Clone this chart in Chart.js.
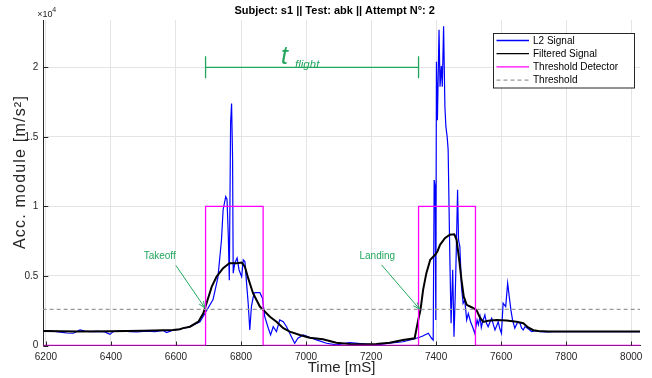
<!DOCTYPE html>
<html>
<head>
<meta charset="utf-8">
<script src="https://cdn.jsdelivr.net/npm/chart.js@4.4.1/dist/chart.umd.min.js"></script>
<style>
  html, body { margin: 0; padding: 0; background: #fff; }
  #wrap { width: 652px; height: 378px; }
</style>
</head>
<body>
<div id="wrap"><canvas id="accChart"></canvas></div>
<script>
// raw signal
const l2Time = [6190, 6210, 6233, 6250, 6264, 6284, 6305, 6320, 6335, 6360, 6381, 6397, 6407, 6430, 6458, 6480, 6510,
  6535, 6561, 6571, 6591, 6605, 6622, 6640, 6653, 6674,
  6692, 6714, 6729, 6740, 6745, 6753, 6757, 6761, 6764, 6768, 6771, 6774, 6776, 6781, 6788, 6794, 6802, 6807, 6812,
  6817, 6822, 6827, 6832, 6840, 6848, 6858, 6866, 6873, 6884, 6891, 6899, 6909, 6919, 6930, 6940, 6955, 6965, 6975,
  6991, 7011, 7032, 7063, 7093, 7134, 7175, 7216, 7257, 7298, 7329, 7349, 7359, 7365, 7376, 7386, 7391, 7394, 7397,
  7399, 7401, 7404, 7408, 7409, 7412, 7416, 7419, 7423, 7427, 7430, 7434, 7437, 7442, 7446, 7451, 7455, 7459, 7463,
  7466, 7469, 7473, 7478, 7483, 7488, 7494, 7499, 7506, 7512, 7519, 7526, 7530, 7535, 7539, 7543, 7550, 7555, 7560,
  7566, 7571, 7576, 7581, 7586, 7591, 7596,
  7601, 7606, 7614, 7620, 7625, 7630, 7635, 7642, 7647, 7652, 7658, 7663, 7668, 7673, 7678, 7686, 7694, 7705, 7719,
  7740, 7760, 7800, 7850, 7900, 7950, 8030];
const l2Value = [1040, 1060, 1000, 950, 900, 880, 1120, 1040, 1000, 1020, 980, 800, 1000, 1060, 1000, 970, 1040,
  1000, 1080, 930, 1100, 1130, 1240, 1320, 1480, 1700,
  2430, 3300, 4900, 7600, 9760, 10700, 10500, 7830, 4700, 16000, 17390, 13600, 5200, 5930, 6290, 5430, 4950, 6150, 6030,
  4500, 3060, 1120, 2800, 3780, 3800, 3800, 3400, 2070, 1240, 760, 1350, 1000, 1840, 1710, 1350, 630, 160, 520,
  760, 590, 400, 160, 40, 200, 110, 40, 160, 270, 450, 590, 680, 760, 880, 520, 400, 11900, 11400,
  1840, 20400, 16200, 21500, 22700, 18600, 20100, 18600, 22950, 17200, 15750, 15000, 14080, 6640, 1600, 5440, 630, 3760, 7830,
  11200, 7600, 7110, 4230, 3040, 3280, 1840, 2300, 1710, 1350, 880, 1840, 1500, 2070, 1300, 1710, 2200, 1600, 1350,
  1700, 1950, 1500, 1120, 1400, 1710, 1200,
  880, 3040, 2800, 4480, 3500, 2560, 1840, 1240, 1500, 1710, 1600, 1250, 1120, 1350, 1300, 1150, 1000, 1060, 1000,
  980, 1000, 1000, 990, 1000, 1000, 1000];

// filtered signal
const filtTime = [6190, 6300, 6400, 6500, 6560, 6591, 6612, 6622, 6643, 6669, 6684, 6694, 6710, 6725, 6745, 6764, 6787,
  6802, 6812, 6822, 6837, 6858, 6868, 6889, 6909, 6930, 6950, 6981, 7011, 7052, 7093, 7134, 7175, 7216, 7257, 7298,
  7334, 7345, 7352, 7360, 7370, 7382, 7397, 7404, 7412, 7427, 7442, 7456, 7463, 7471, 7478, 7485, 7494, 7509, 7524,
  7535, 7545, 7560, 7586, 7617, 7647, 7668, 7683, 7699, 7714, 7745, 8030];
const filtValue = [1040, 1000, 1020, 1060, 1100, 1120, 1170, 1250, 1350, 1710, 2320, 3040, 4230, 4950, 5560, 5920, 5920,
  5960, 5670, 4840, 3760, 2800, 2560, 2070, 1710, 1240, 1000, 760, 560, 450, 200, 110, 90, 110, 200, 400,
  520, 1840, 2560, 4000, 5200, 6160, 6520, 6750, 7240, 7720, 7960, 8000, 7600, 6160, 4720, 3510, 2920, 2750, 2560,
  2000, 1700, 1780, 1840, 1800, 1700, 1600, 1300, 1100, 1040, 1000, 1000];

// threshold detector (step)
const detTime = [6190, 6691, 6691, 6868, 6868, 7346, 7346, 7521, 7521, 8030];
const detValue = [0, 0, 10000, 10000, 0, 0, 10000, 10000, 0, 0];

const thresholdLevel = 2600;
const xTicks = [6200, 6400, 6600, 6800, 7000, 7200, 7400, 7600, 7800, 8000];
const yTicks = [0, 5000, 10000, 15000, 20000];

// annotation anchors in data units
const flightSpan = [6691, 7346];
const flightLevel = 20000;
const takeoffLabel = [6550, 6450];
const takeoffArrow = [6600, 5750, 6689, 2700];
const landingLabel = [7219, 6394];
const landingArrow = [7232, 5800, 7349, 2620];

const GREEN = '#22a65e';
const FONT = '"Liberation Sans", Arial, Helvetica, sans-serif';
const AX = '#262626';

const pts = (xs, ys) => xs.map((x, i) => ({ x, y: ys[i] }));

function arrow(ctx, x0, y0, x1, y1) {
  ctx.beginPath(); ctx.moveTo(x0, y0); ctx.lineTo(x1, y1); ctx.stroke();
  const ang = Math.atan2(y1 - y0, x1 - x0), len = 7, sp = 0.38;
  ctx.beginPath();
  ctx.moveTo(x1 - len * Math.cos(ang - sp), y1 - len * Math.sin(ang - sp));
  ctx.lineTo(x1, y1);
  ctx.lineTo(x1 - len * Math.cos(ang + sp), y1 - len * Math.sin(ang + sp));
  ctx.stroke();
}

const decorations = {
  id: 'decorations',
  afterDatasetsDraw(chart) {
    const { ctx, chartArea: a, scales: { x, y } } = chart;
    ctx.save();
    // inward ticks
    ctx.strokeStyle = AX; ctx.lineWidth = 1;
    xTicks.forEach(v => {
      const px = Math.round(x.getPixelForValue(v)) + 0.5;
      ctx.beginPath(); ctx.moveTo(px, a.bottom); ctx.lineTo(px, a.bottom - 4); ctx.stroke();
    });
    yTicks.forEach(v => {
      const py = Math.round(y.getPixelForValue(v)) + 0.5;
      ctx.beginPath(); ctx.moveTo(a.left, py); ctx.lineTo(a.left + 5, py); ctx.stroke();
    });

    // t_flight bracket
    ctx.strokeStyle = GREEN; ctx.fillStyle = GREEN; ctx.lineWidth = 1.3;
    const fx0 = x.getPixelForValue(flightSpan[0]), fx1 = x.getPixelForValue(flightSpan[1]);
    const fy = y.getPixelForValue(flightLevel);
    ctx.beginPath();
    ctx.moveTo(fx0, fy); ctx.lineTo(fx1, fy);
    ctx.moveTo(fx0, fy - 11); ctx.lineTo(fx0, fy + 11);
    ctx.moveTo(fx1, fy - 11); ctx.lineTo(fx1, fy + 11);
    ctx.stroke();
    ctx.textBaseline = 'alphabetic'; ctx.textAlign = 'left';
    const mid = (fx0 + fx1) / 2;
    ctx.font = 'italic 25px ' + FONT;
    ctx.fillText('t', mid - 31, fy - 3);
    ctx.font = 'italic 11.5px ' + FONT;
    ctx.fillText('flight', mid - 17, fy + 1);

    // takeoff / landing
    ctx.font = '10px ' + FONT; ctx.textAlign = 'center'; ctx.textBaseline = 'middle';
    ctx.fillText('Takeoff', x.getPixelForValue(takeoffLabel[0]), y.getPixelForValue(takeoffLabel[1]));
    ctx.fillText('Landing', x.getPixelForValue(landingLabel[0]), y.getPixelForValue(landingLabel[1]));
    ctx.lineWidth = 1;
    arrow(ctx, x.getPixelForValue(takeoffArrow[0]), y.getPixelForValue(takeoffArrow[1]),
      x.getPixelForValue(takeoffArrow[2]), y.getPixelForValue(takeoffArrow[3]));
    arrow(ctx, x.getPixelForValue(landingArrow[0]), y.getPixelForValue(landingArrow[1]),
      x.getPixelForValue(landingArrow[2]), y.getPixelForValue(landingArrow[3]));
    ctx.restore();
  },
  afterDraw(chart) {
    const { ctx, chartArea: a } = chart;
    ctx.save();
    // title
    ctx.fillStyle = '#000'; ctx.textAlign = 'center'; ctx.textBaseline = 'middle';
    ctx.font = 'bold 11px ' + FONT;
    ctx.fillText('Subject: s1 || Test: abk || Attempt N°: 2', (a.left + a.right) / 2 - 7, 10.5);
    // y axis label
    ctx.save();
    ctx.translate(21, 172);
    ctx.rotate(-Math.PI / 2);
    ctx.fillStyle = AX;
    ctx.font = '16px ' + FONT;
    if ('letterSpacing' in ctx) ctx.letterSpacing = '1.2px';
    ctx.fillText('Acc. module [m/s²]', 0, 0);
    ctx.restore();
    // exponent
    ctx.fillStyle = AX; ctx.textAlign = 'left'; ctx.textBaseline = 'alphabetic';
    ctx.font = '9px ' + FONT;
    ctx.fillText('×10', a.left - 6, a.top - 3);
    ctx.font = '7px ' + FONT;
    ctx.fillText('4', a.left + 9, a.top - 8);

    // legend
    const bx = a.right - 147, by = a.top + 13, bw = 141, bh = 54.5;
    ctx.fillStyle = '#fff'; ctx.fillRect(bx, by, bw, bh);
    ctx.strokeStyle = AX; ctx.lineWidth = 1;
    ctx.strokeRect(Math.round(bx) + 0.5, Math.round(by) + 0.5, bw, bh);
    ctx.font = '10px ' + FONT; ctx.textBaseline = 'middle';
    chart.data.datasets.forEach((ds, i) => {
      const ly = by + 7.5 + i * 13.2;
      ctx.strokeStyle = ds.borderColor; ctx.lineWidth = 1.3;
      ctx.setLineDash(ds.borderDash || []);
      ctx.beginPath(); ctx.moveTo(bx + 3.5, ly); ctx.lineTo(bx + 36, ly); ctx.stroke();
      ctx.setLineDash([]);
      ctx.fillStyle = '#000';
      ctx.fillText(ds.label, bx + 40, ly + 0.5);
    });
    ctx.restore();
  }
};

new Chart(document.getElementById('accChart'), {
  type: 'line',
  data: {
    datasets: [
      { label: 'L2 Signal', data: pts(l2Time, l2Value), borderColor: '#0000ff', borderWidth: 1.2, order: 4 },
      { label: 'Filtered Signal', data: pts(filtTime, filtValue), borderColor: '#000000', borderWidth: 2, order: 3 },
      { label: 'Threshold Detector', data: pts(detTime, detValue), borderColor: '#ff00ff', borderWidth: 1.3, order: 2 },
      { label: 'Threshold', data: pts([6190, 8030], [thresholdLevel, thresholdLevel]), borderColor: '#9a9a9a',
        borderWidth: 1.3, borderDash: [4, 3], order: 1 }
    ]
  },
  options: {
    responsive: true,
    maintainAspectRatio: false,
    animation: false,
    events: [],
    elements: { point: { radius: 0 }, line: { tension: 0 } },
    layout: { padding: { top: 20, right: 12, left: 0, bottom: 0 } },
    plugins: { legend: { display: false }, tooltip: { enabled: false }, title: { display: false } },
    scales: {
      x: {
        type: 'linear', min: 6192, max: 8027,
        afterBuildTicks: s => { s.ticks = xTicks.map(v => ({ value: v })); },
        afterFit: s => { s.height = 32.5; },
        grid: { color: '#e4e4e4', drawTicks: false },
        border: { display: true, color: AX },
        ticks: { padding: 6, color: AX, font: { family: FONT, size: 10 }, maxRotation: 0, callback: v => String(v) },
        title: { display: true, text: 'Time [mS]', color: AX, font: { family: FONT, size: 15 }, padding: { top: 0, bottom: 1 } }
      },
      y: {
        type: 'linear', min: 0, max: 23400,
        afterBuildTicks: s => { s.ticks = yTicks.map(v => ({ value: v })); },
        afterFit: s => { s.width = 43.3; },
        grid: { color: '#e4e4e4', drawTicks: false },
        border: { display: true, color: AX },
        ticks: { padding: 5, color: AX, font: { family: FONT, size: 10 }, callback: v => String(v / 10000) },
        title: { display: false }
      }
    }
  },
  plugins: [decorations]
});
</script>
</body>
</html>
